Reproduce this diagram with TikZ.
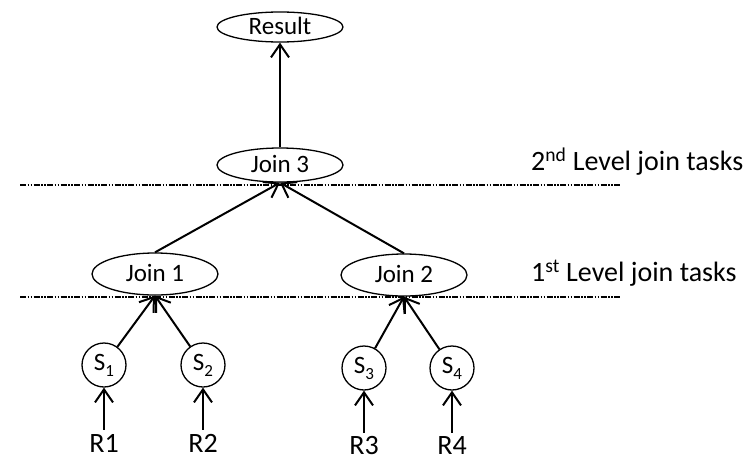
\documentclass[tikz,border=0pt]{standalone}
\usepackage{fontspec}
\setmainfont{Carlito}
\usetikzlibrary{shapes.geometric,arrows.meta}
\newcommand{\srcsub}[1]{{\fontsize{17}{20}\selectfont\raisebox{-6pt}{#1}}}
\begin{document}
\begin{tikzpicture}[x=1pt,y=-1pt,
    task/.style={ellipse,draw,line width=1.3pt,inner sep=0pt,
      minimum width=126pt,minimum height=42pt,
      text height=17pt,text depth=2pt,font=\fontsize{25}{28}\selectfont},
    source/.style={circle,draw,line width=1.3pt,inner sep=0pt,
      minimum size=44pt,font=\fontsize{25}{28}\selectfont},
    rel/.style={inner sep=4pt,font=\fontsize{28}{32}\selectfont},
    levellabel/.style={anchor=west,inner sep=0pt,font=\fontsize{28}{32}\selectfont},
    levelline/.style={line width=1.5pt,
      dash pattern=on 6pt off 1.5pt on 1.5pt off 1.5pt on 1.5pt off 1.5pt},
    flow/.style={line width=2pt,-{Straight Barb[length=13pt,width=18pt]}}]
  \useasboundingbox (0,0) rectangle (752,463);
  % Levels
  \draw[levelline] (20,185) -- (620,185);
  \draw[levelline] (20,297) -- (620,297);
  \node[levellabel] (lvl2) at (531,162) {2\textsuperscript{nd} Level join tasks};
  \node[levellabel] (lvl1) at (531,273) {1\textsuperscript{st} Level join tasks};
  % Join tasks
  \node[task,minimum height=30pt] (result) at (280,27) {Result};
  \node[task,minimum height=34pt] (join3) at (280,165) {Join 3};
  \node[task] (join1) at (155,274) {Join 1};
  \node[task] (join2) at (404,275) {Join 2};
  % Sources
  \foreach \i/\x/\y/\j in {1/104/365/1,2/203/365/1,3/364/368/2,4/452/368/2} {
    \node[source] (s\i) at (\x,\y) {S\srcsub{\i}};
    \node[rel] (r\i) at (\x,\y+78) {R\i};
    \draw[flow] (r\i) -- (s\i);
    \draw[flow] (s\i) -- (join\j.south);
  }
  % Upper levels
  \draw[flow] (join1.north) -- (join3.south);
  \draw[flow] (join2.north) -- (join3.south);
  \draw[flow] (join3) -- (result);
\end{tikzpicture}
\end{document}
